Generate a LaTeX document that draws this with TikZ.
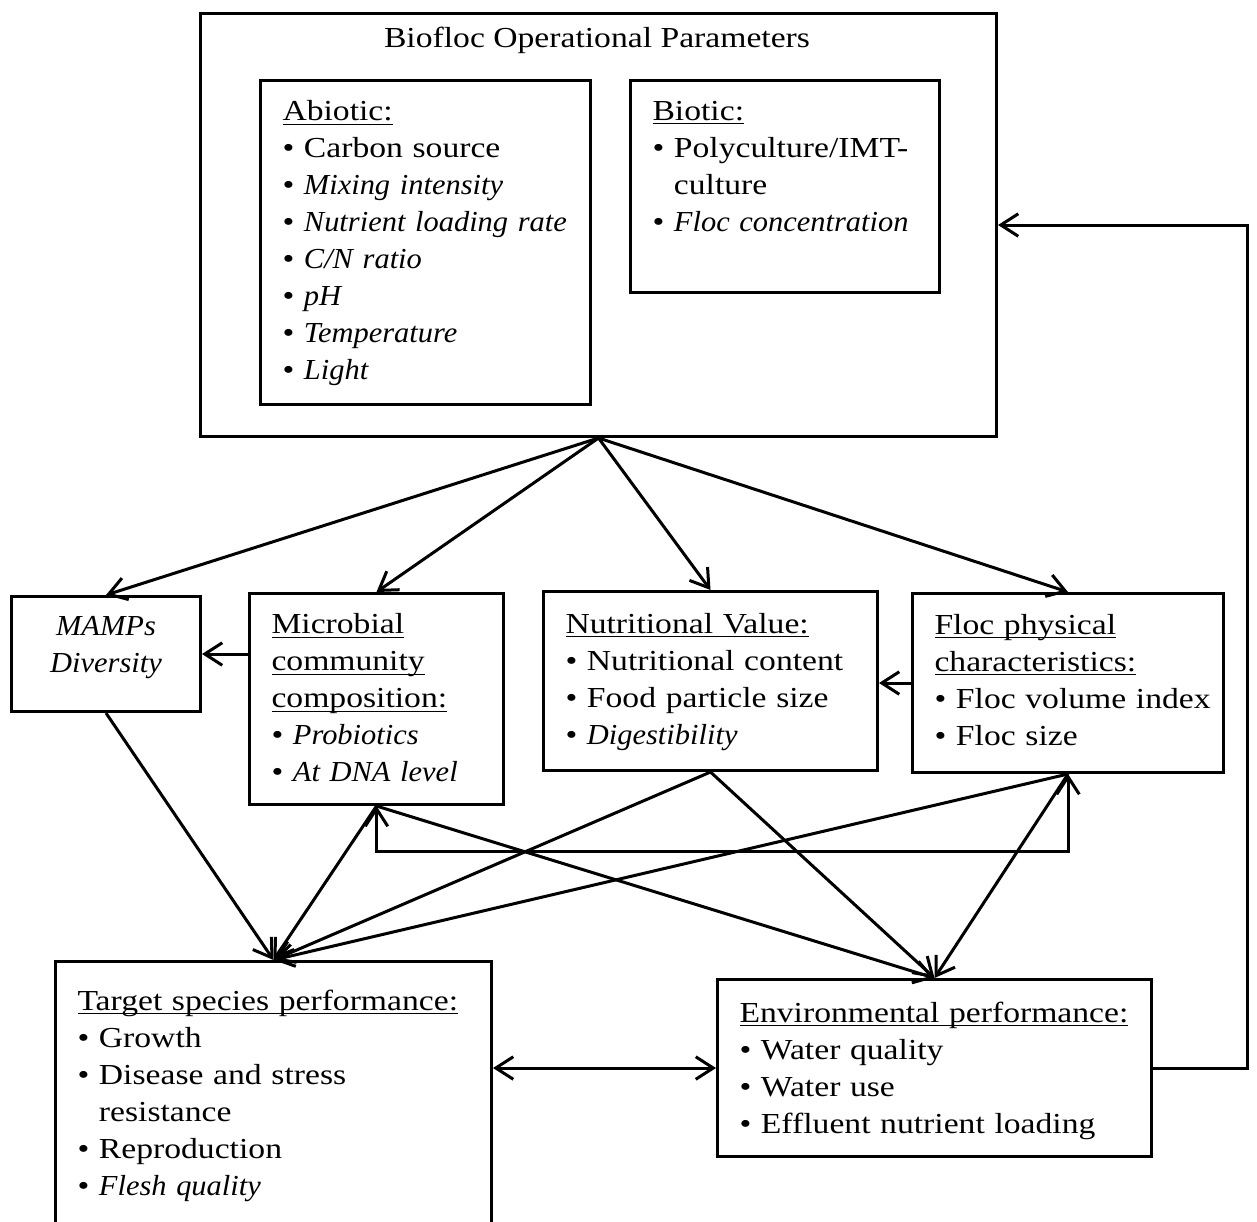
\documentclass[tikz,border=0pt]{standalone}
\usepackage{fontspec}
\setmainfont{Liberation Serif}[UprightFeatures={FakeStretch=1.16}, ItalicFeatures={FakeStretch=1.05}]
\usetikzlibrary{arrows.meta}

\hyphenpenalty=10000
\newcommand{\hdr}[1]{\underline{\smash{#1}}}
\newcommand{\lift}[1]{\rule{0pt}{#1}}

\begin{document}
\begin{tikzpicture}[
  x=0.4pt, y=-0.4pt,
  box/.style={draw, line width=1.2pt, anchor=north west, align=left,
              inner xsep=8.8pt, inner ysep=0pt,
              font={\fontsize{11.6}{14.8}\selectfont}},
  arr/.style={-{Straight Barb[length=7pt,width=9pt]}, line width=1.2pt},
  dbl/.style={{Straight Barb[length=7pt,width=9pt]}-{Straight Barb[length=7pt,width=9pt]}, line width=1.2pt}
]
\useasboundingbox (0,0) rectangle (1257,1221);
\clip (0,0) rectangle (1257,1221);

% boxes on fixed pixel coordinates (y runs downwards)
\node[box, minimum width=318.4pt, minimum height=169.2pt] (params) at (199,12) {};
\node[font={\fontsize{11.6}{14.8}\selectfont}, anchor=base] (title) at (597,47) {Biofloc Operational Parameters};

\node[box, text width=114.4pt, minimum width=132pt, minimum height=129.6pt] (abio) at (259,79)
  {\lift{8.7pt}\hdr{Abiotic:}\\
   \textbullet\ Carbon source\\
   \textbullet\ \textit{Mixing intensity}\\
   \textbullet\ \textit{Nutrient~loading~rate}\\
   \textbullet\ \textit{C/N ratio}\\
   \textbullet\ \textit{pH}\\
   \textbullet\ \textit{Temperature}\\
   \textbullet\ \textit{Light}};
\node[box, text width=106pt, minimum width=123.6pt, minimum height=84.8pt] (bio) at (629,79)
  {\lift{6.3pt}\hdr{Biotic:}\\
   \textbullet\ Polyculture/IMT-\\
   \phantom{\textbullet\ }culture\\
   \textbullet\ \textit{Floc~concentration}\\
   ~};

\node[box, align=center, text width=58pt, minimum width=75.6pt, minimum height=46pt] (mamps) at (10,595)
  {\textit{MAMPs}\\ \textit{Diversity}\\[-7.4pt] ~};
\node[box, text width=84pt, minimum width=101.6pt, minimum height=84.4pt] (mic) at (248,592)
  {\lift{7.1pt}\hdr{Microbial}\\
   \hdr{community}\\
   \hdr{composition:}\\
   \textbullet\ \textit{Probiotics}\\
   \textbullet\ \textit{At DNA level}};
\node[box, text width=116pt, minimum width=133.6pt, minimum height=71.6pt] (nutri) at (542,590)
  {\lift{8.7pt}\hdr{Nutritional Value:}\\
   \textbullet\ Nutritional~content\\
   \textbullet\ Food~particle~size\\
   \textbullet\ \textit{Digestibility}};
\node[box, text width=106.8pt, minimum width=124.4pt, minimum height=71.6pt] (floc) at (911,592)
  {\lift{5.5pt}\hdr{Floc physical}\\
   \hdr{characteristics:}\\
   \mbox{\textbullet\ Floc volume index}\\
   \textbullet\ Floc size};

\node[box, text width=156.8pt, minimum width=174.4pt, minimum height=118.4pt] (target) at (54,960)
  {\lift{9.3pt}\hdr{Target~species~performance:}\\
   \textbullet\ Growth\\
   \textbullet\ Disease and stress\\
   \phantom{\textbullet\ }resistance\\
   \textbullet\ Reproduction\\
   \textbullet\ \textit{Flesh quality}\\
   ~};
\node[box, text width=156pt, minimum width=173.6pt, minimum height=70.8pt] (env) at (716,978)
  {\lift{10.3pt}\hdr{Environmental~performance:}\\
   \textbullet\ Water quality\\
   \textbullet\ Water use\\
   \textbullet\ Effluent~nutrient~loading};

\coordinate (ret) at (1247,0);

% connectors
\draw[arr] (params.south) -- (mamps.north);
\draw[arr] (params.south) -- (mic.north);
\draw[arr] (params.south) -- (nutri.north);
\draw[arr] (params.south) -- (floc.north);
\draw[arr] (mic.west |- mamps.east) -- (mamps.east);
\draw[arr] (floc.west) -- (floc.west -| nutri.east);
\draw[arr] (mamps.south) -- (target.north);
\draw[arr] (mic.south) -- (target.north);
\draw[arr] (nutri.south) -- (target.north);
\draw[arr] (floc.south) -- (target.north);
\draw[arr] (mic.south) -- (env.north);
\draw[arr] (nutri.south) -- (env.north);
\draw[arr] (floc.south) -- (env.north);
\draw[dbl] (mic.south) -- ++(0,45) -| (floc.south);
\draw[dbl] (target.east |- env.west) -- (env.west);
\draw[arr] (env.east) -- (env.east -| ret) |- (params.east);
\end{tikzpicture}
\end{document}
